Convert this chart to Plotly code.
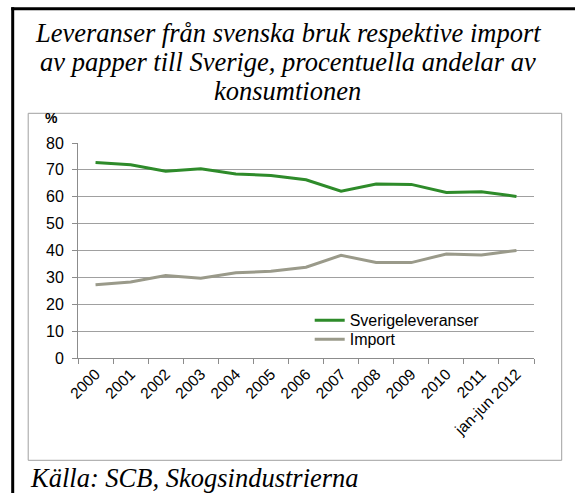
import plotly.graph_objects as go

categories = ["2000", "2001", "2002", "2003", "2004", "2005", "2006", "2007",
              "2008", "2009", "2010", "2011", "jan-jun 2012"]
sverige = [72.7, 71.9, 69.5, 70.4, 68.5, 67.9, 66.3, 62.1, 64.7, 64.6, 61.6, 61.9, 60.1]
importv = [27.3, 28.3, 30.7, 29.7, 31.7, 32.3, 33.8, 38.2, 35.5, 35.5, 38.7, 38.3, 40.0]
y_ticks = [0, 10, 20, 30, 40, 50, 60, 70, 80]

W, H = 575, 493
# plot area in page pixels
L, R, T, B = 78.3, 534.3, 142.7, 357.7

def px(x):
    return (x - L) / (R - L)

def py(y):
    return (B - y) / (B - T)

GREEN = "#2e8b2a"
GREY = "#9a9a8a"
AX = "#8c8c8c"
SERIF = "Liberation Serif, Times New Roman"

fig = go.Figure()
fig.add_trace(go.Scatter(x=categories, y=sverige, mode="lines", name="Sverigeleveranser",
                         line=dict(color=GREEN, width=3), legend="legend"))
fig.add_trace(go.Scatter(x=categories, y=importv, mode="lines", name="Import",
                         line=dict(color=GREY, width=3), legend="legend2"))

leg_common = dict(xanchor="left", yanchor="middle", bgcolor="rgba(0,0,0,0)",
                  itemwidth=30, font=dict(size=16), borderwidth=0)

fig.update_layout(
    width=W, height=H,
    margin=dict(l=L, r=W - R, t=T, b=H - B, autoexpand=False),
    paper_bgcolor="white", plot_bgcolor="white",
    font=dict(family="Liberation Sans, Arial", size=16, color="#000"),
    showlegend=True,
    legend=dict(x=px(310), y=py(320), **leg_common),
    legend2=dict(x=px(310), y=py(339), **leg_common),
    xaxis=dict(type="category", tickson="boundaries", ticks="outside", ticklen=5,
               tickcolor=AX, showline=True, linecolor=AX, linewidth=1,
               showgrid=False, tickangle=-45, range=[-0.5, 12.5],
               tickfont=dict(size=15.5)),
    yaxis=dict(range=[0, 80], tickvals=y_ticks, ticks="outside", ticklen=5,
               tickcolor=AX, showline=True, linecolor=AX, linewidth=1,
               showgrid=True, gridcolor="#a0a0a0", gridwidth=1, zeroline=False,
               ticklabelstandoff=5, tickfont=dict(size=16)),
    shapes=[
        dict(type="line", xref="paper", yref="paper", x0=px(13), x1=px(13),
             y0=py(7), y1=py(500), line=dict(color="black", width=3)),
        dict(type="line", xref="paper", yref="paper", x0=px(11.5), x1=px(580),
             y0=py(8.5), y1=py(8.5), line=dict(color="black", width=3)),
        dict(type="rect", xref="paper", yref="paper", x0=px(28.5), x1=px(562),
             y0=py(113), y1=py(460), line=dict(color="#a0a0a0", width=1)),
    ],
    annotations=[
        dict(text=t, xref="paper", yref="paper", x=px(288), y=py(yc),
             xanchor="center", yanchor="middle", showarrow=False,
             font=dict(family=SERIF, size=26.5, style="italic", color="black"))
        for t, yc in [("Leveranser från svenska bruk respektive import", 33),
                      ("av papper till Sverige, procentuella andelar av", 62),
                      ("konsumtionen", 91)]
    ] + [
        dict(text="<b>%</b>", xref="paper", yref="paper", x=px(52), y=py(118),
             xanchor="center", yanchor="middle", showarrow=False,
             font=dict(size=14, color="black")),
        dict(text="Källa: SCB, Skogsindustrierna", xref="paper", yref="paper",
             x=px(28), y=py(478), xanchor="left", yanchor="middle", showarrow=False,
             font=dict(family=SERIF, size=26.5, style="italic", color="black")),
    ],
)

page_css = ("document.documentElement.style.overflow='hidden';"
            "document.body.style.margin='0';"
            "document.body.style.overflow='hidden';")
fig.write_html("out.html", post_script=page_css,
               config={"displayModeBar": False})
